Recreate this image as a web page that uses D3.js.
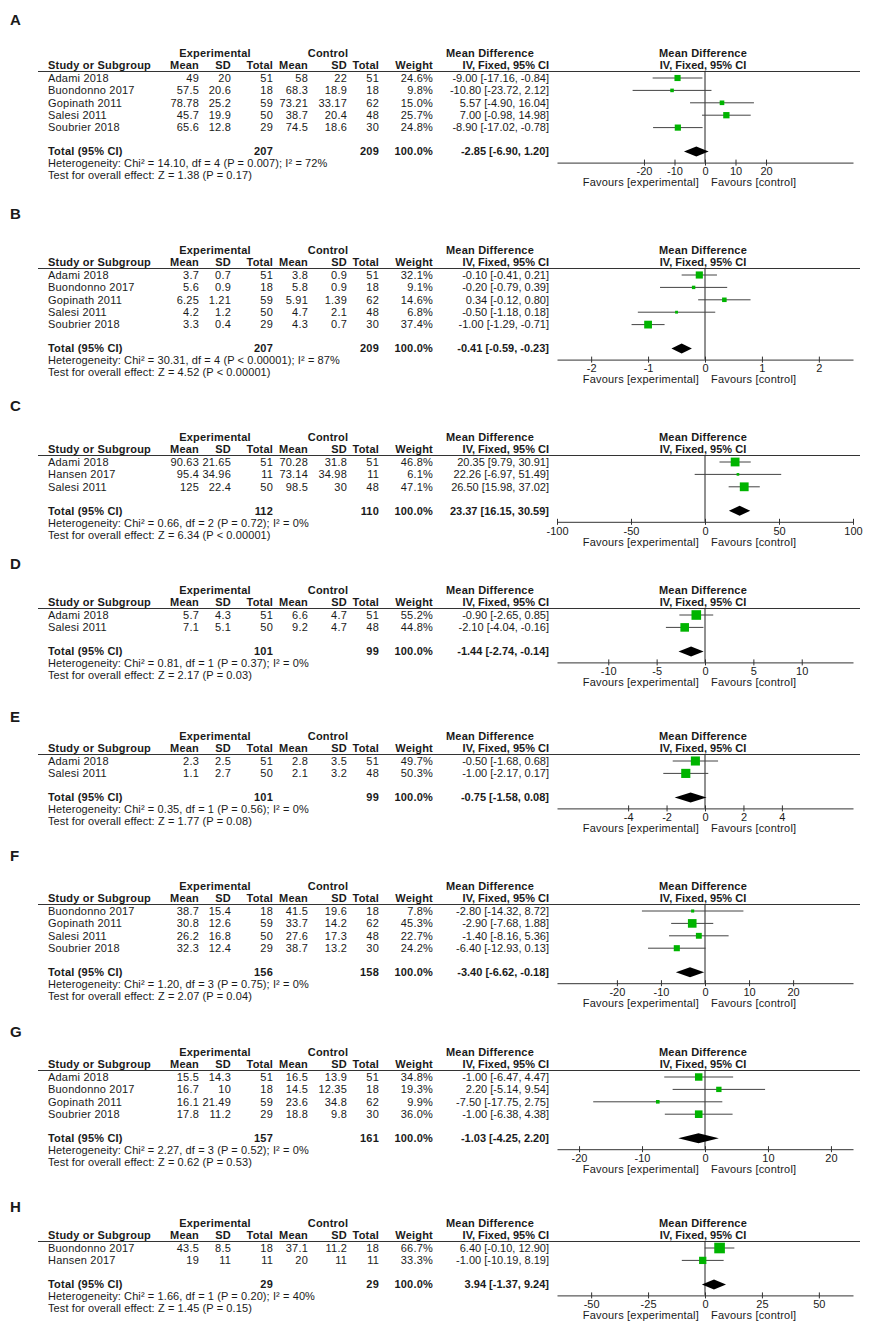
<!DOCTYPE html>
<html>
<head>
<meta charset="utf-8">
<script src="https://cdn.jsdelivr.net/npm/d3@7"></script>
<style>
  html, body { margin: 0; padding: 0; background: #fff; }
  svg { display: block; }
  text { font-family: "Liberation Sans", Arial, sans-serif; fill: #1a1a1a; }
</style>
</head>
<body>
<svg id="chart" width="874" height="1339"></svg>
<script>
// ---------------- DATA ----------------
const panelLabels = ["A", "B", "C", "D", "E", "F", "G", "H"];

const studies = [
  ["Adami 2018", "Buondonno 2017", "Gopinath 2011", "Salesi 2011", "Soubrier 2018"],
  ["Adami 2018", "Buondonno 2017", "Gopinath 2011", "Salesi 2011", "Soubrier 2018"],
  ["Adami 2018", "Hansen 2017", "Salesi 2011"],
  ["Adami 2018", "Salesi 2011"],
  ["Adami 2018", "Salesi 2011"],
  ["Buondonno 2017", "Gopinath 2011", "Salesi 2011", "Soubrier 2018"],
  ["Adami 2018", "Buondonno 2017", "Gopinath 2011", "Soubrier 2018"],
  ["Buondonno 2017", "Hansen 2017"]
];
const expMean = [
  ["49", "57.5", "78.78", "45.7", "65.6"],
  ["3.7", "5.6", "6.25", "4.2", "3.3"],
  ["90.63", "95.4", "125"],
  ["5.7", "7.1"],
  ["2.3", "1.1"],
  ["38.7", "30.8", "26.2", "32.3"],
  ["15.5", "16.7", "16.1", "17.8"],
  ["43.5", "19"]
];
const expSD = [
  ["20", "20.6", "25.2", "19.9", "12.8"],
  ["0.7", "0.9", "1.21", "1.2", "0.4"],
  ["21.65", "34.96", "22.4"],
  ["4.3", "5.1"],
  ["2.5", "2.7"],
  ["15.4", "12.6", "16.8", "12.4"],
  ["14.3", "10", "21.49", "11.2"],
  ["8.5", "11"]
];
const expN = [
  [51, 18, 59, 50, 29],
  [51, 18, 59, 50, 29],
  [51, 11, 50],
  [51, 50],
  [51, 50],
  [18, 59, 50, 29],
  [51, 18, 59, 29],
  [18, 11]
];
const ctlMean = [
  ["58", "68.3", "73.21", "38.7", "74.5"],
  ["3.8", "5.8", "5.91", "4.7", "4.3"],
  ["70.28", "73.14", "98.5"],
  ["6.6", "9.2"],
  ["2.8", "2.1"],
  ["41.5", "33.7", "27.6", "38.7"],
  ["16.5", "14.5", "23.6", "18.8"],
  ["37.1", "20"]
];
const ctlSD = [
  ["22", "18.9", "33.17", "20.4", "18.6"],
  ["0.9", "0.9", "1.39", "2.1", "0.7"],
  ["31.8", "34.98", "30"],
  ["4.7", "4.7"],
  ["3.5", "3.2"],
  ["19.6", "14.2", "17.3", "13.2"],
  ["13.9", "12.35", "34.8", "9.8"],
  ["11.2", "11"]
];
const ctlN = [
  [51, 18, 62, 48, 30],
  [51, 18, 62, 48, 30],
  [51, 11, 48],
  [51, 48],
  [51, 48],
  [18, 62, 48, 30],
  [51, 18, 62, 30],
  [18, 11]
];
const weights = [
  [24.6, 9.8, 15.0, 25.7, 24.8],
  [32.1, 9.1, 14.6, 6.8, 37.4],
  [46.8, 6.1, 47.1],
  [55.2, 44.8],
  [49.7, 50.3],
  [7.8, 45.3, 22.7, 24.2],
  [34.8, 19.3, 9.9, 36.0],
  [66.7, 33.3]
];
const md = [
  [-9.00, -10.80, 5.57, 7.00, -8.90],
  [-0.10, -0.20, 0.34, -0.50, -1.00],
  [20.35, 22.26, 26.50],
  [-0.90, -2.10],
  [-0.50, -1.00],
  [-2.80, -2.90, -1.40, -6.40],
  [-1.00, 2.20, -7.50, -1.00],
  [6.40, -1.00]
];
const ciLow = [
  [-17.16, -23.72, -4.90, -0.98, -17.02],
  [-0.41, -0.79, -0.12, -1.18, -1.29],
  [9.79, -6.97, 15.98],
  [-2.65, -4.04],
  [-1.68, -2.17],
  [-14.32, -7.68, -8.16, -12.93],
  [-6.47, -5.14, -17.75, -6.38],
  [-0.10, -10.19]
];
const ciHigh = [
  [-0.84, 2.12, 16.04, 14.98, -0.78],
  [0.21, 0.39, 0.80, 0.18, -0.71],
  [30.91, 51.49, 37.02],
  [0.85, -0.16],
  [0.68, 0.17],
  [8.72, 1.88, 5.36, 0.13],
  [4.47, 9.54, 2.75, 4.38],
  [12.90, 8.19]
];
const totalExpN = [207, 207, 112, 101, 101, 156, 157, 29];
const totalCtlN = [209, 209, 110, 99, 99, 158, 161, 29];
const totalMD = [-2.85, -0.41, 23.37, -1.44, -0.75, -3.40, -1.03, 3.94];
const totalLow = [-6.90, -0.59, 16.15, -2.74, -1.58, -6.62, -4.25, -1.37];
const totalHigh = [1.20, -0.23, 30.59, -0.14, 0.08, -0.18, 2.20, 9.24];
const heterogeneity = [
  "Heterogeneity: Chi² = 14.10, df = 4 (P = 0.007); I² = 72%",
  "Heterogeneity: Chi² = 30.31, df = 4 (P < 0.00001); I² = 87%",
  "Heterogeneity: Chi² = 0.66, df = 2 (P = 0.72); I² = 0%",
  "Heterogeneity: Chi² = 0.81, df = 1 (P = 0.37); I² = 0%",
  "Heterogeneity: Chi² = 0.35, df = 1 (P = 0.56); I² = 0%",
  "Heterogeneity: Chi² = 1.20, df = 3 (P = 0.75); I² = 0%",
  "Heterogeneity: Chi² = 2.27, df = 3 (P = 0.52); I² = 0%",
  "Heterogeneity: Chi² = 1.66, df = 1 (P = 0.20); I² = 40%"
];
const overallTest = [
  "Test for overall effect: Z = 1.38 (P = 0.17)",
  "Test for overall effect: Z = 4.52 (P < 0.00001)",
  "Test for overall effect: Z = 6.34 (P < 0.00001)",
  "Test for overall effect: Z = 2.17 (P = 0.03)",
  "Test for overall effect: Z = 1.77 (P = 0.08)",
  "Test for overall effect: Z = 2.07 (P = 0.04)",
  "Test for overall effect: Z = 0.62 (P = 0.53)",
  "Test for overall effect: Z = 1.45 (P = 0.15)"
];
const tickValues = [
  [-20, -10, 0, 10, 20],
  [-2, -1, 0, 1, 2],
  [-100, -50, 0, 50, 100],
  [-10, -5, 0, 5, 10],
  [-4, -2, 0, 2, 4],
  [-20, -10, 0, 10, 20],
  [-20, -10, 0, 10, 20],
  [-50, -25, 0, 25, 50]
];
const axisLimit = [48.5, 2.6, 100, 15.3, 7.7, 33.6, 23.5, 65];

// ---------------- LAYOUT ----------------
const letterY = [20, 214, 406, 564, 717, 856, 1032, 1207];
const groupHeaderY = [53, 250, 437, 590, 736, 886, 1052, 1223];
const colRight = { expMean: 199, expSD: 231, expN: 273, ctlMean: 308, ctlSD: 347, ctlN: 379, weight: 433, ci: 549 };
const studyX = 48;
const plotLeft = 557, plotRight = 853;
const rowGap = 12.4;
const FS = 11;

const svg = d3.select("#chart");
svg.append("rect").attr("width", 874).attr("height", 1339).attr("fill", "#fff");

function txt(g, x, y, s, anchor, bold, size, spacing) {
  return g.append("text")
    .attr("x", x).attr("y", y).attr("dy", "0.35em")
    .attr("text-anchor", anchor || "start")
    .style("font-size", (size || FS) + "px")
    .style("font-weight", bold ? "bold" : "normal")
    .style("letter-spacing", (spacing === undefined ? 0.2 : spacing) + "px")
    .text(s);
}
const fmt2 = v => v.toFixed(2);
const ciText = (m, l, h) => `${fmt2(m)} [${fmt2(l)}, ${fmt2(h)}]`;

panelLabels.forEach((lab, p) => {
  const g = svg.append("g");
  const y0 = groupHeaderY[p];
  const headY = y0 + 12.5;
  const lineY = y0 + 18.5;
  const rowY = i => y0 + 25 + i * rowGap;
  const n = studies[p].length;
  const totalY = rowY(n - 1) + 24;
  const axisY = totalY + 11;

  // Panel letter
  txt(g, 10, letterY[p], lab, "start", true, 15, 0);

  // Group headers
  txt(g, 215, y0, "Experimental", "middle", true);
  txt(g, 328, y0, "Control", "middle", true);
  txt(g, 490, y0, "Mean Difference", "middle", true);
  txt(g, 703, y0, "Mean Difference", "middle", true);

  // Column headers
  txt(g, studyX, headY, "Study or Subgroup", "start", true);
  txt(g, colRight.expMean, headY, "Mean", "end", true);
  txt(g, colRight.expSD, headY, "SD", "end", true);
  txt(g, colRight.expN, headY, "Total", "end", true);
  txt(g, colRight.ctlMean, headY, "Mean", "end", true);
  txt(g, colRight.ctlSD, headY, "SD", "end", true);
  txt(g, colRight.ctlN, headY, "Total", "end", true);
  txt(g, colRight.weight, headY, "Weight", "end", true);
  txt(g, colRight.ci, headY, "IV, Fixed, 95% CI", "end", true, FS, 0);
  txt(g, 703, headY, "IV, Fixed, 95% CI", "middle", true, FS, 0);

  g.append("line").attr("x1", 38).attr("x2", 860).attr("y1", lineY).attr("y2", lineY)
    .attr("stroke", "#333").attr("stroke-width", 1.2);

  // Study rows
  studies[p].forEach((s, i) => {
    const y = rowY(i);
    txt(g, studyX, y, s);
    txt(g, colRight.expMean, y, expMean[p][i], "end");
    txt(g, colRight.expSD, y, expSD[p][i], "end");
    txt(g, colRight.expN, y, expN[p][i], "end");
    txt(g, colRight.ctlMean, y, ctlMean[p][i], "end");
    txt(g, colRight.ctlSD, y, ctlSD[p][i], "end");
    txt(g, colRight.ctlN, y, ctlN[p][i], "end");
    txt(g, colRight.weight, y, weights[p][i].toFixed(1) + "%", "end");
    txt(g, colRight.ci, y, ciText(md[p][i], ciLow[p][i], ciHigh[p][i]), "end", false, FS, 0);
  });

  // Totals
  txt(g, studyX, totalY, "Total (95% CI)", "start", true);
  txt(g, colRight.expN, totalY, totalExpN[p], "end", true);
  txt(g, colRight.ctlN, totalY, totalCtlN[p], "end", true);
  txt(g, colRight.weight, totalY, "100.0%", "end", true);
  txt(g, colRight.ci, totalY, ciText(totalMD[p], totalLow[p], totalHigh[p]), "end", true, FS, 0);
  txt(g, studyX, totalY + 12, heterogeneity[p], "start", false, FS, 0.1);
  txt(g, studyX, totalY + 24, overallTest[p], "start", false, FS, 0.1);

  // Forest plot
  const x = d3.scaleLinear().domain([-axisLimit[p], axisLimit[p]]).range([plotLeft, plotRight]);

  // zero line
  g.append("line").attr("x1", x(0)).attr("x2", x(0)).attr("y1", lineY).attr("y2", axisY)
    .attr("stroke", "#222").attr("stroke-width", 1);

  // CI lines and squares
  studies[p].forEach((s, i) => {
    const y = rowY(i);
    g.append("line").attr("x1", x(ciLow[p][i])).attr("x2", x(ciHigh[p][i]))
      .attr("y1", y).attr("y2", y).attr("stroke", "#444").attr("stroke-width", 1);
    const side = Math.max(2.5, 1.4 * Math.sqrt(weights[p][i]) - 0.8);
    g.append("rect").attr("x", x(md[p][i]) - side / 2).attr("y", y - side / 2)
      .attr("width", side).attr("height", side).attr("fill", "#00b400");
  });

  // Diamond
  const dh = 5;
  g.append("path")
    .attr("d", `M${x(totalLow[p])},${totalY} L${x(totalMD[p])},${totalY - dh} L${x(totalHigh[p])},${totalY} L${x(totalMD[p])},${totalY + dh} Z`)
    .attr("fill", "#000");

  // Axis
  const axG = g.append("g").attr("transform", `translate(0,${axisY})`)
    .call(d3.axisBottom(x).tickValues(tickValues[p]).tickFormat(d => String(d))
      .tickSizeInner(3).tickSizeOuter(0).tickPadding(2));
  axG.select(".domain").attr("stroke", "#333");
  axG.selectAll(".tick line").attr("y1", -3).attr("stroke", "#333");
  axG.selectAll(".tick text").style("font-size", FS + "px")
    .style("font-family", "'Liberation Sans', Arial, sans-serif").attr("fill", "#1a1a1a");

  txt(g, x(0) - 6, axisY + 20, "Favours [experimental]", "end");
  txt(g, x(0) + 6, axisY + 20, "Favours [control]", "start");
});
</script>
</body>
</html>
